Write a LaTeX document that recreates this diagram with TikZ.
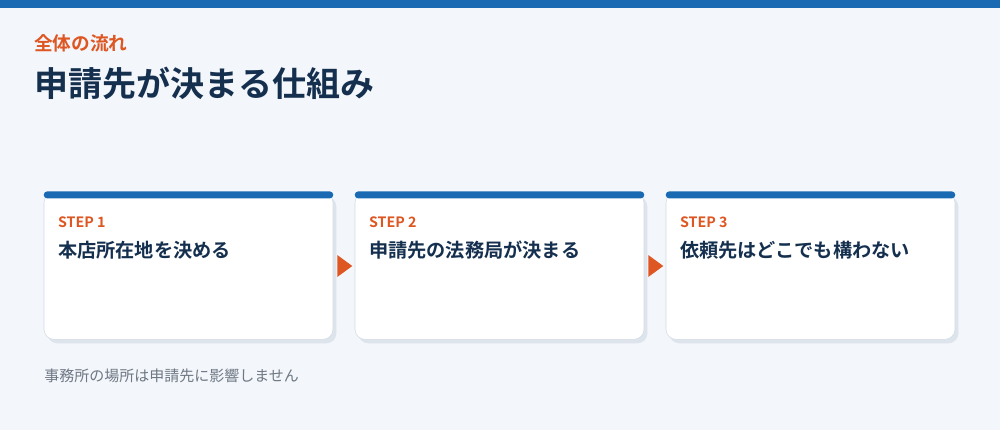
\documentclass[tikz,border=0pt]{standalone}
\usepackage{fontspec}
\setmainfont{Noto Sans CJK JP}[BoldFont={Noto Sans CJK JP Bold}]
\usetikzlibrary{calc,shadows}
\definecolor{pagebg}{HTML}{F3F6FA}
\definecolor{topblue}{HTML}{1A69B3}
\definecolor{navy}{HTML}{15304F}
\definecolor{accent}{HTML}{DE5621}
\definecolor{cardline}{HTML}{D3DBE5}
\definecolor{cardshadow}{HTML}{DDE4EC}
\definecolor{notegray}{HTML}{6E7884}
\tikzset{
  card/.style={draw=cardline, fill=white, rounded corners=7.5pt,
    minimum width=216.75pt, minimum height=110pt, inner sep=0pt,
    drop shadow={shadow xshift=2.5pt, shadow yshift=-3pt, fill=cardshadow, opacity=1}},
  cardbar/.style={fill=topblue, rounded corners=2.6pt},
  steplbl/.style={anchor=west, inner sep=0pt, text=accent, font=\bfseries\fontsize{10.7}{13}\selectfont},
  cardtitle/.style={anchor=west, inner sep=0pt, text=navy, font=\bfseries\fontsize{14.4}{17}\selectfont},
  flowarrow/.style={fill=accent, draw=none}
}
\begin{document}
\begin{tikzpicture}[x=0.75pt,y=-0.75pt]
\useasboundingbox (0,0) rectangle (1000,430);
\fill[pagebg] (0,0) rectangle (1000,430);
\fill[topblue] (0,0) rectangle (1000,8);
% heading
\node[anchor=west, inner sep=0pt, text=accent, font=\bfseries\fontsize{14}{17}\selectfont] (kicker) at (34,43) {全体の流れ};
\node[anchor=west, inner sep=0pt, text=navy, font=\bfseries\fontsize{25.5}{30}\selectfont] (title) at (34,83) {申請先が決まる仕組み};
% cards
\foreach \i/\cx/\lbl in {1/188.5/本店所在地を決める, 2/499.5/申請先の法務局が決まる, 3/810.5/依頼先はどこでも構わない}{
  \node[card] (card\i) at (\cx,266) {};
  \fill[cardbar] ($(card\i.north west)+(0,-1)$) rectangle ($(card\i.north east)+(0,6)$);
  \node[steplbl] (step\i) at ($(card\i.north west)+(14,30)$) {STEP \i};
  \node[cardtitle] (ttl\i) at ($(card\i.north west)+(14,58)$) {\lbl};
}
% arrows between cards
\fill[flowarrow] ($(card1.east)+(4,-11)$) -- ($(card1.east)+(19,0)$) -- ($(card1.east)+(4,11)$) -- cycle;
\fill[flowarrow] ($(card2.east)+(4,-11)$) -- ($(card2.east)+(19,0)$) -- ($(card2.east)+(4,11)$) -- cycle;
% note
\node[anchor=west, inner sep=0pt, text=notegray, font=\fontsize{11.25}{14}\selectfont] (note) at (44,376) {事務所の場所は申請先に影響しません};
\end{tikzpicture}
\end{document}
